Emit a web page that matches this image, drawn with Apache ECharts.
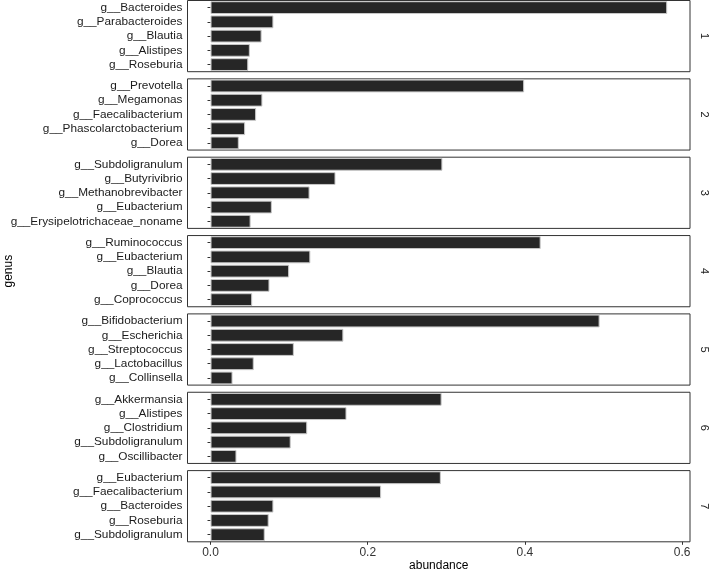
<!DOCTYPE html>
<html>
<head>
<meta charset="utf-8">
<script src="https://cdn.jsdelivr.net/npm/echarts@6/dist/echarts.min.js"></script>
<style>
html,body{margin:0;padding:0;background:#fff;}
#chart{width:709px;height:570px;}
</style>
</head>
<body>
<div id="chart"></div>
<script>
// Facet labels
var facetLabels = ['1', '2', '3', '4', '5', '6', '7'];

// Genus categories per facet (top to bottom)
var genus1 = ['g__Bacteroides', 'g__Parabacteroides', 'g__Blautia', 'g__Alistipes', 'g__Roseburia'];
var genus2 = ['g__Prevotella', 'g__Megamonas', 'g__Faecalibacterium', 'g__Phascolarctobacterium', 'g__Dorea'];
var genus3 = ['g__Subdoligranulum', 'g__Butyrivibrio', 'g__Methanobrevibacter', 'g__Eubacterium', 'g__Erysipelotrichaceae_noname'];
var genus4 = ['g__Ruminococcus', 'g__Eubacterium', 'g__Blautia', 'g__Dorea', 'g__Coprococcus'];
var genus5 = ['g__Bifidobacterium', 'g__Escherichia', 'g__Streptococcus', 'g__Lactobacillus', 'g__Collinsella'];
var genus6 = ['g__Akkermansia', 'g__Alistipes', 'g__Clostridium', 'g__Subdoligranulum', 'g__Oscillibacter'];
var genus7 = ['g__Eubacterium', 'g__Faecalibacterium', 'g__Bacteroides', 'g__Roseburia', 'g__Subdoligranulum'];

// Abundance values per facet
var abund1 = [0.581, 0.080, 0.065, 0.050, 0.048];
var abund2 = [0.399, 0.066, 0.058, 0.044, 0.036];
var abund3 = [0.295, 0.159, 0.126, 0.078, 0.051];
var abund4 = [0.420, 0.127, 0.100, 0.075, 0.053];
var abund5 = [0.495, 0.169, 0.106, 0.055, 0.028];
var abund6 = [0.294, 0.173, 0.123, 0.102, 0.033];
var abund7 = [0.293, 0.217, 0.080, 0.074, 0.069];

// X tick values
var xTicks = [0, 0.2, 0.4, 0.6];

var genusList = [genus1, genus2, genus3, genus4, genus5, genus6, genus7];
var abundList = [abund1, abund2, abund3, abund4, abund5, abund6, abund7];

var FONT = '"Liberation Sans", Arial, Helvetica, sans-serif';
var n = facetLabels.length;
var grids = [], xAxes = [], yAxes = [], series = [];
var gridTop0 = 0.5, gridStep = 78.35, gridH = 71.2;

for (var i = 0; i < n; i++) {
  var last = (i === n - 1);
  grids.push({
    left: 187.5, right: 19, top: gridTop0 + i * gridStep, height: gridH,
    show: true, backgroundColor: '#fff', borderColor: '#333', borderWidth: 1,
    containLabel: false, outerBoundsMode: 'none'
  });
  xAxes.push({
    type: 'value', gridIndex: i, min: -0.0293, max: 0.61,
    splitLine: { show: false },
    axisLine: { show: false },
    axisTick: { show: last, length: 3, lineStyle: { color: '#333' }, customValues: xTicks },
    axisLabel: {
      show: last, customValues: xTicks, color: '#333', fontSize: 12, fontFamily: FONT, margin: 5,
      formatter: function (v) { return v.toFixed(1); }
    },
    name: last ? 'abundance' : '', nameLocation: 'middle', nameGap: 17,
    nameTextStyle: { color: '#000', fontSize: 12, fontFamily: FONT }
  });
  yAxes.push({
    type: 'category', gridIndex: i, data: genusList[i], inverse: true,
    axisLine: { show: false },
    axisTick: { show: true, alignWithLabel: true, interval: 0, length: 3, lineStyle: { color: '#333' } },
    axisLabel: { color: '#1a1a1a', fontSize: 11.8, fontFamily: FONT, margin: 5, interval: 0 },
    name: i === 3 ? 'genus' : '', nameLocation: 'middle', nameRotate: 90, nameGap: 173,
    nameTextStyle: { color: '#000', fontSize: 12, fontFamily: FONT }
  });
  yAxes.push({
    type: 'category', gridIndex: i, position: 'right', data: genusList[i], inverse: true,
    axisLine: { show: false }, axisTick: { show: false }, axisLabel: { show: false },
    name: facetLabels[i], nameLocation: 'middle', nameRotate: -90, nameGap: 9,
    nameTextStyle: { color: '#1a1a1a', fontSize: 11, fontFamily: FONT }
  });
  series.push({
    type: 'bar', xAxisIndex: i, yAxisIndex: 2 * i, data: abundList[i],
    barWidth: '90%',
    itemStyle: { color: '#262626', borderColor: '#c8c8c8', borderWidth: 1 },
    silent: true, animation: false
  });
}

var chart = echarts.init(document.getElementById('chart'), null, { renderer: 'canvas' });
chart.setOption({
  animation: false,
  backgroundColor: '#fff',
  grid: grids, xAxis: xAxes, yAxis: yAxes, series: series
});
</script>
</body>
</html>
